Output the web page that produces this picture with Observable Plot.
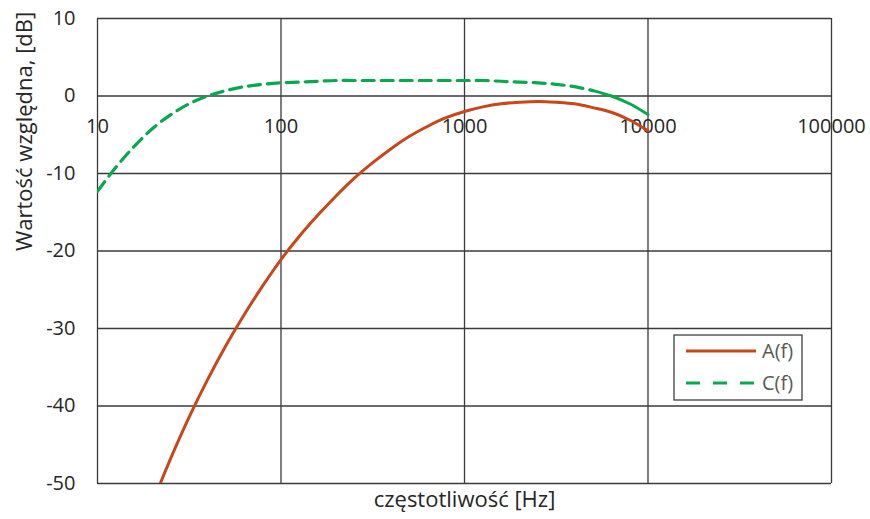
<!DOCTYPE html>
<html>
<head>
<meta charset="utf-8">
<script src="https://cdn.jsdelivr.net/npm/d3@7"></script>
<script src="https://cdn.jsdelivr.net/npm/@observablehq/plot@0.6"></script>
<style>
  html, body { margin: 0; padding: 0; background: #fff; }
  #chart svg { display: block; }
</style>
</head>
<body>
<div id="chart"></div>
<script>
// Frequencies [Hz] (1/3-octave band centres, exact base-10 values)
const freqs = [10, 12.59, 15.85, 19.95, 25.12, 31.62, 39.81, 50.12, 63.10, 79.43, 100, 125.9, 158.5, 199.5, 251.2, 316.2, 398.1, 501.2, 631.0, 794.3, 1000, 1259, 1585, 1995, 2512, 3162, 3981, 5012, 6310, 7943, 10000];
// A(f) [dB]
const aValues = [-72.4, -65.4, -58.7, -52.5, -46.7, -41.4, -36.6, -32.2, -28.2, -24.5, -21.1, -18.1, -15.4, -12.9, -10.6, -8.6, -6.8, -5.2, -3.9, -2.8, -2.0, -1.4, -1.0, -0.8, -0.7, -0.8, -1.0, -1.5, -2.1, -3.1, -4.5];
// C(f) [dB]
const cValues = [-12.3, -9.2, -6.5, -4.2, -2.4, -1.0, 0.0, 0.7, 1.2, 1.5, 1.7, 1.8, 1.9, 2.0, 2.0, 2.0, 2.0, 2.0, 2.0, 2.0, 2.0, 2.0, 1.9, 1.8, 1.7, 1.5, 1.2, 0.7, 0.0, -1.0, -2.4];
const xTicks = [10, 100, 1000, 10000, 100000];
const yTicks = [-50, -40, -30, -20, -10, 0, 10];
const seriesNames = ["A(f)", "C(f)"];
const colors = ["#C8461A", "#07A84F"];

const rowsA = freqs.map((f, i) => ({f, v: aValues[i]}));
const rowsC = freqs.map((f, i) => ({f, v: cValues[i]}));

const FONT = "'Open Sans', sans-serif";
const gridColor = "#3a3a3a";
const textColor = "#262626";

const plot = Plot.plot({
  width: 870,
  height: 519,
  marginLeft: 97,
  marginRight: 39,
  marginTop: 18,
  marginBottom: 36,
  style: {fontFamily: FONT, fontSize: "20px", color: textColor, background: "#fff"},
  x: {type: "log", domain: [10, 100000]},
  y: {domain: [-50, 10]},
  marks: [
    Plot.ruleX(xTicks, {stroke: gridColor, strokeWidth: 1.3, strokeOpacity: 1}),
    Plot.ruleY(yTicks, {stroke: gridColor, strokeWidth: 1.3, strokeOpacity: 1}),
    Plot.axisY(yTicks, {tickSize: 0, tickPadding: 22, fontSize: 20, label: null, tickFormat: d => String(d)}),
    Plot.axisX({ticks: [], label: null, tickSize: 0}),
    Plot.text(xTicks, {x: d => d, y: 0, dy: 31, text: d => String(d), fontSize: 20, fill: textColor}),
    Plot.line(rowsA, {x: "f", y: "v", stroke: colors[0], strokeWidth: 3, clip: true, curve: "catmull-rom"}),
    Plot.line(rowsC.filter(d => d.f <= 5100), {x: "f", y: "v", stroke: colors[1], strokeWidth: 3.2, strokeDasharray: "12,7", clip: true, curve: "catmull-rom"}),
    Plot.line(rowsC.filter(d => d.f >= 5000), {x: "f", y: "v", stroke: colors[1], strokeWidth: 3, clip: true, curve: "catmull-rom"}),
    Plot.text(["Wartość względna, [dB]"], {frameAnchor: "left", dx: -73, rotate: -90, fontSize: 22, fill: textColor}),
    Plot.text(["częstotliwość [Hz]"], {frameAnchor: "bottom", dy: 23, fontSize: 22, fill: textColor})
  ]
});

document.getElementById("chart").appendChild(plot);

// Legend box inside the plot area (lower right)
const svg = d3.select(plot);
const lg = svg.append("g").attr("transform", "translate(674,335)");
lg.append("rect").attr("x", 0).attr("y", 0).attr("width", 128).attr("height", 65)
  .attr("fill", "#fff").attr("stroke", "#404040").attr("stroke-width", 1.3);
seriesNames.forEach((name, i) => {
  const y = 16 + i * 32;
  lg.append("line").attr("x1", 12).attr("x2", 82).attr("y1", y).attr("y2", y)
    .attr("stroke", colors[i]).attr("stroke-width", 3.2)
    .attr("stroke-dasharray", i === 1 ? "14,13" : null);
  lg.append("text").attr("x", 88).attr("y", y).attr("dy", "0.35em")
    .attr("text-anchor", "start")
    .attr("font-family", FONT).attr("font-size", 20).attr("fill", "#595959").text(name);
});
</script>
</body>
</html>
